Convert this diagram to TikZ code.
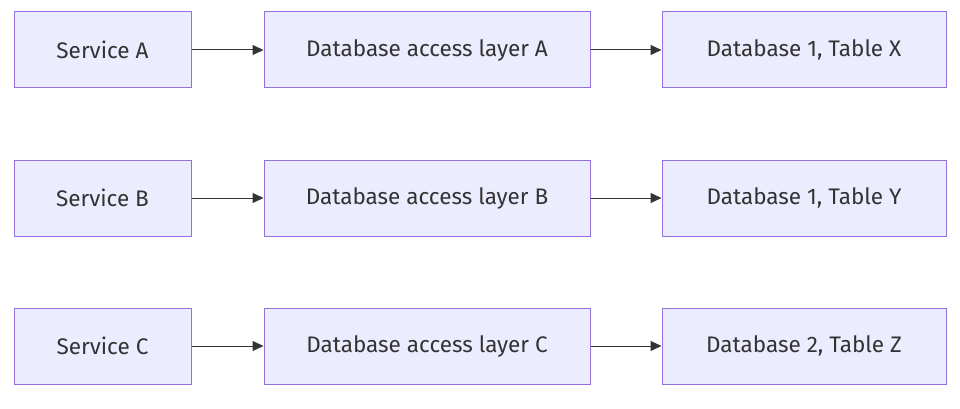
\documentclass[tikz,border=0pt]{standalone}
\usepackage{fontspec}
\setmainfont{Fira Sans}
\usetikzlibrary{arrows.meta}
\definecolor{boxfill}{HTML}{ECECFF}
\definecolor{boxline}{HTML}{9370DB}
\definecolor{ink}{HTML}{333333}
\begin{document}
\begin{tikzpicture}[x=1pt, y=-1pt,
    component/.style = {rectangle, draw=boxline, fill=boxfill, line width=1pt,
                        minimum height=76pt, inner sep=0pt, text=ink},
    call/.style = {draw=ink, line width=1pt, -{Triangle[length=11pt, width=10pt]}},
    font=\fontsize{22.5pt}{27pt}\selectfont]
  \useasboundingbox (0, 0) rectangle (960, 409);

  % Services.
  \node at (102.5, 50) [component, minimum width=177pt, name=ServiceA] {Service A};
  \node at (102.5, 198) [component, minimum width=177pt, name=ServiceB] {Service B};
  \node at (102.5, 346) [component, minimum width=177pt, name=ServiceC] {Service C};

  % Access layers.
  \node at (427, 50) [component, minimum width=326pt, name=LayerA] {Database access layer A};
  \node at (427, 198) [component, minimum width=326pt, name=LayerB] {Database access layer B};
  \node at (427, 346) [component, minimum width=326pt, name=LayerC] {Database access layer C};

  % Tables.
  \node at (804, 50) [component, minimum width=284pt, name=TableX] {Database 1, Table X};
  \node at (804, 198) [component, minimum width=284pt, name=TableY] {Database 1, Table Y};
  \node at (804, 346) [component, minimum width=284pt, name=TableZ] {Database 2, Table Z};

  % Calls.
  \draw [call] (ServiceA) to (LayerA);
  \draw [call] (ServiceB) to (LayerB);
  \draw [call] (ServiceC) to (LayerC);
  \draw [call] (LayerA) to (TableX);
  \draw [call] (LayerB) to (TableY);
  \draw [call] (LayerC) to (TableZ);
\end{tikzpicture}
\end{document}
